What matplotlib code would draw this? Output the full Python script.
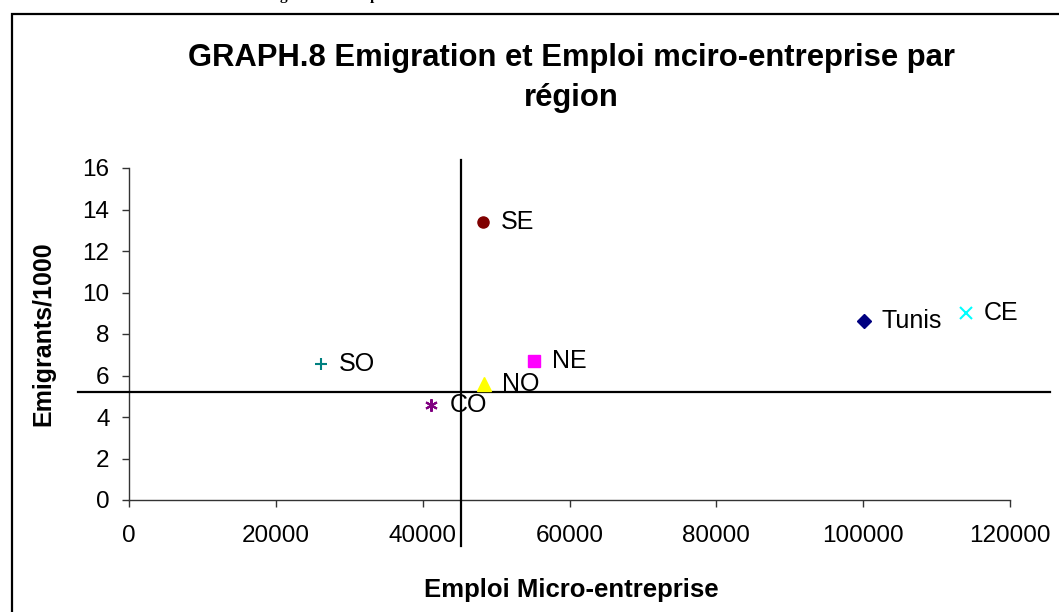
import matplotlib
matplotlib.use("Agg")
import matplotlib.pyplot as plt
from matplotlib.lines import Line2D
from matplotlib.patches import Rectangle

plt.rcParams['font.family'] = ['Liberation Sans', 'DejaVu Sans']

# ---- data ----
regions = ["Tunis", "NE", "NO", "CE", "CO", "SO", "SE"]
emploi = [100100, 55100, 48300, 114000, 41200, 26100, 48200]
emigrants = [8.63, 6.7, 5.6, 9.0, 4.58, 6.55, 13.4]
colors = ["#000080", "#FF00FF", "#FFFF00", "#00FFFF", "#800080", "#008080", "#800000"]
markers = ["D", "s", "^", "x", (6, 2, 0), "+", "o"]
msizes = [7, 8, 10, 9, 9, 9, 8]
x_ticks = [0, 20000, 40000, 60000, 80000, 100000, 120000]
y_ticks = [0, 2, 4, 6, 8, 10, 12, 14, 16]
mean_x = 45200
mean_y = 5.22

W, H = 1059, 612
fig = plt.figure(figsize=(W / 100, H / 100), dpi=100)
fig.patch.set_facecolor("white")

L, R, B, T = 129, 1010, 500, 168
ax = fig.add_axes([L / W, 1 - B / H, (R - L) / W, (B - T) / H])
ax.set_xlim(0, 120000)
ax.set_ylim(0, 16)
ax.set_xticks(x_ticks)
ax.set_yticks(y_ticks)
ax.set_xticklabels([str(v) for v in x_ticks])
ax.set_yticklabels([str(v) for v in y_ticks])
for s in ["top", "right"]:
    ax.spines[s].set_visible(False)
for s in ["left", "bottom"]:
    ax.spines[s].set_color("#333333")
    ax.spines[s].set_linewidth(1.0)
ax.tick_params(axis="x", direction="out", length=5, width=1, color="#333333",
               labelsize=17.5, pad=13)
ax.tick_params(axis="y", direction="out", length=5, width=1, color="#333333",
               labelsize=17.5, pad=9)

for name, xv, yv, c, m, ms in zip(regions, emploi, emigrants, colors, markers, msizes):
    if m in ("x", "+", (6, 2, 0)):
        ax.plot([xv], [yv], linestyle="none", marker=m, markersize=ms,
                markeredgecolor=c, markeredgewidth=1.5, clip_on=False, zorder=4)
    else:
        ax.plot([xv], [yv], linestyle="none", marker=m, markersize=ms,
                color=c, markeredgecolor=c, clip_on=False, zorder=4)
    ax.annotate(name, (xv, yv), xytext=(18, 0), textcoords="offset pixels",
                ha="left", va="center", fontsize=18, color="black", zorder=5)

# reference lines (drawn beyond the plot area as in the original)
ax.add_line(Line2D([mean_x, mean_x], [16.4, -2.2], color="black", lw=1.6,
                   clip_on=False, zorder=3))
ax.add_line(Line2D([-6960, 125500], [mean_y, mean_y], color="black", lw=1.6,
                   clip_on=False, zorder=3))

ax.set_xlabel("Emploi Micro-entreprise", fontsize=18.5, fontweight="bold")
ax.xaxis.set_label_coords((571 - L) / (R - L), (B - 578) / (B - T))
ax.set_ylabel("Emigrants/1000", fontsize=18, fontweight="bold")
ax.yaxis.set_label_coords((55 - L) / (R - L), (B - 334) / (B - T))

fig.text(571 / W, 1 - 78 / H,
         "GRAPH.8 Emigration et Emploi mciro-entreprise par\nrégion",
         ha="center", va="center", fontsize=22.3, fontweight="bold",
         linespacing=1.4)

# outer chart frame (right and bottom edges fall outside the image)
fig.patches.append(Rectangle((12 / W, -0.05), 1.1, 1 - 14 / H + 0.05,
                             transform=fig.transFigure, fill=False,
                             edgecolor="black", linewidth=1.6))

# heading of the surrounding document, cut off at the top edge
fig.text(253 / W, 1.0, "Emigration et Emploi", ha="left", va="baseline",
         fontsize=11, fontweight="bold", family="Liberation Serif")

fig.savefig("out.png", dpi=100)
